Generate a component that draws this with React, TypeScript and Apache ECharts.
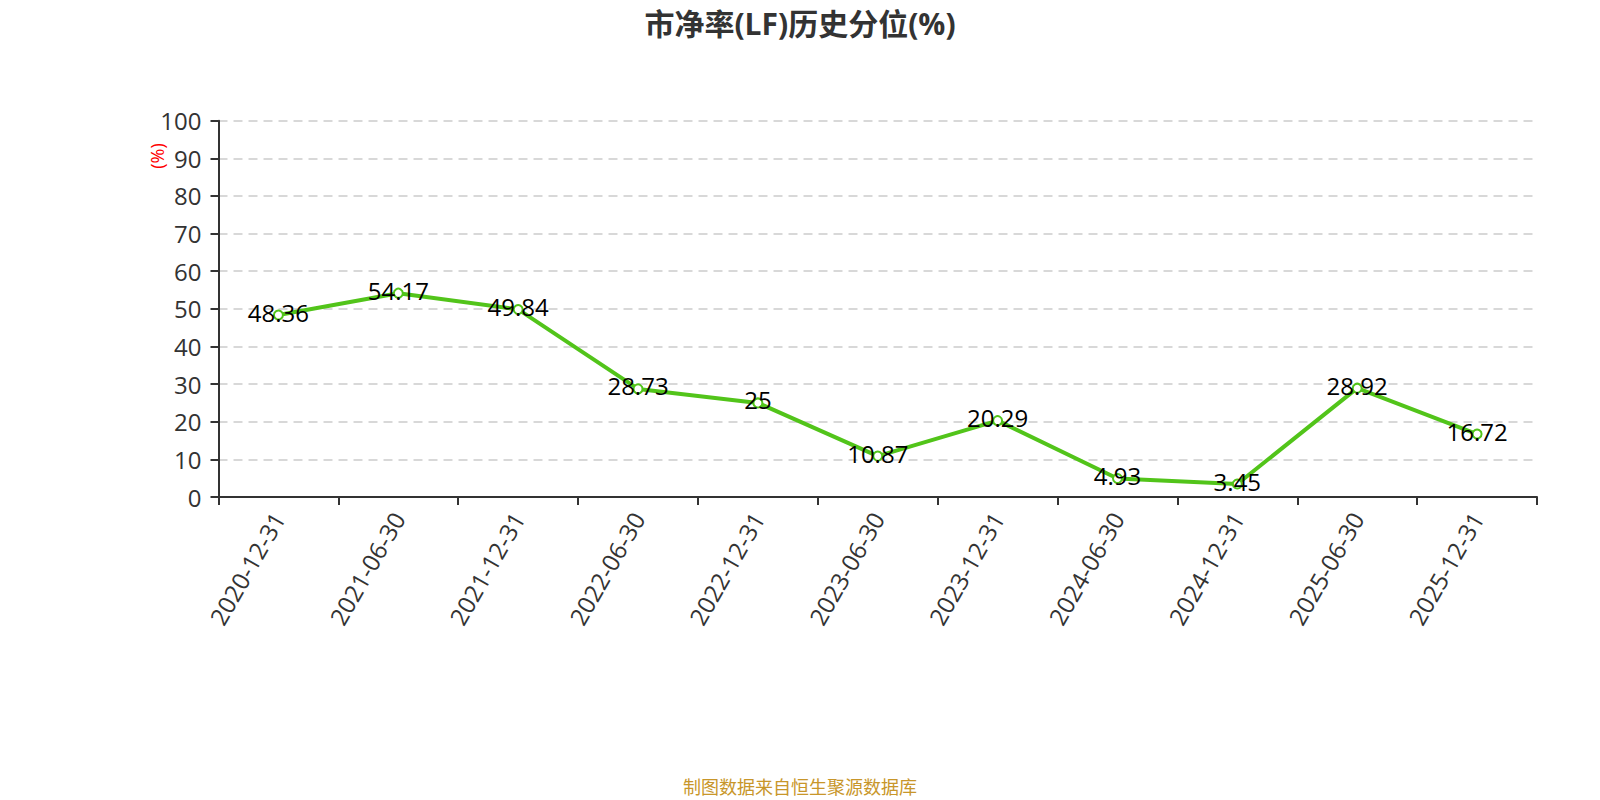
import React, { useEffect, useRef } from "react";
import * as echarts from "echarts";

const categories = [
  "2020-12-31",
  "2021-06-30",
  "2021-12-31",
  "2022-06-30",
  "2022-12-31",
  "2023-06-30",
  "2023-12-31",
  "2024-06-30",
  "2024-12-31",
  "2025-06-30",
  "2025-12-31",
];
const values = [48.36, 54.17, 49.84, 28.73, 25, 10.87, 20.29, 4.93, 3.45, 28.92, 16.72];

const titleText = "市净率(LF)历史分位(%)";
const footerText = "制图数据来自恒生聚源数据库";
const FONT = "'Open Sans', 'Noto Sans CJK SC', sans-serif";

export default function App() {
  const ref = useRef<HTMLDivElement>(null);
  useEffect(() => {
    document.body.style.margin = "0";
    const chart = echarts.init(ref.current!, null, { renderer: "svg" });
    chart.setOption({
      animation: false,
      backgroundColor: "#fff",
      textStyle: { fontFamily: FONT },
      title: {
        text: titleText,
        left: "center",
        top: 3,
        textStyle: { fontSize: 30, fontWeight: "bold", color: "#333", fontFamily: FONT },
      },
      graphic: [
        {
          type: "text",
          x: 156.5,
          y: 156,
          rotation: Math.PI / 2,
          style: {
            text: "(%)",
            fill: "#ff0000",
            fontSize: 18,
            fontFamily: FONT,
            align: "center",
            verticalAlign: "middle",
          },
        },
        {
          type: "text",
          x: 800,
          y: 787,
          style: {
            text: footerText,
            fill: "#c8962a",
            fontSize: 18,
            fontFamily: FONT,
            align: "center",
            verticalAlign: "middle",
          },
        },
      ],
      grid: { left: 218.5, right: 63, top: 120.7, bottom: 303, containLabel: false },
      xAxis: {
        type: "category",
        data: categories,
        boundaryGap: true,
        axisLine: { lineStyle: { color: "#333", width: 2 } },
        axisTick: { show: true, length: 8, lineStyle: { color: "#333", width: 2 } },
        axisLabel: { rotate: 60, fontSize: 24, color: "#333", margin: 17, fontFamily: FONT },
      },
      yAxis: {
        type: "value",
        min: 0,
        max: 100,
        interval: 10,
        axisLine: { show: true, lineStyle: { color: "#333", width: 2 } },
        axisTick: { show: true, length: 8, lineStyle: { color: "#333", width: 2 } },
        axisLabel: { fontSize: 24, color: "#333", margin: 17, fontFamily: FONT },
        splitLine: { show: true, lineStyle: { color: "#ccc", type: [9, 6], width: 1.5 } },
      },
      series: [
        {
          type: "line",
          data: values,
          symbol: "emptyCircle",
          symbolSize: 9,
          itemStyle: { color: "#52c41a", borderWidth: 2 },
          lineStyle: { color: "#52c41a", width: 4 },
          label: {
            show: true,
            position: "inside",
            offset: [0, -3],
            fontSize: 24,
            color: "#000",
            fontFamily: FONT,
          },
        },
      ],
    });
    return () => chart.dispose();
  }, []);
  return <div ref={ref} style={{ width: 1600, height: 800 }} />;
}
